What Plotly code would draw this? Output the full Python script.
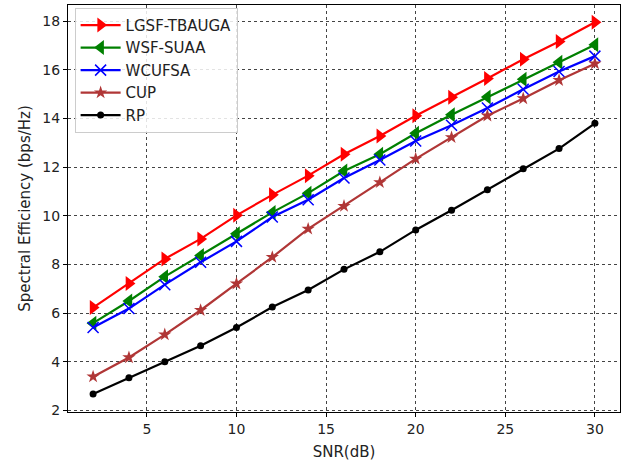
import plotly.graph_objects as go

snr = [2, 4, 6, 8, 10, 12, 14, 16, 18, 20, 22, 24, 26, 28, 30]
lgsf_tbauga = [6.23, 7.22, 8.23, 9.05, 10.02, 10.86, 11.65, 12.53, 13.28, 14.11, 14.87, 15.64, 16.43, 17.16, 17.95]
wsf_suaa = [5.59, 6.50, 7.50, 8.37, 9.26, 10.14, 10.93, 11.84, 12.53, 13.39, 14.15, 14.88, 15.61, 16.31, 17.03]
wcufsa = [5.41, 6.19, 7.17, 8.09, 8.95, 9.95, 10.66, 11.55, 12.29, 13.07, 13.72, 14.43, 15.20, 15.93, 16.56]
cup = [3.39, 4.18, 5.12, 6.12, 7.21, 8.30, 9.46, 10.40, 11.37, 12.34, 13.22, 14.11, 14.82, 15.57, 16.25]
rp = [2.68, 3.35, 4.00, 4.66, 5.41, 6.25, 6.95, 7.80, 8.52, 9.42, 10.23, 11.07, 11.93, 12.76, 13.80]

series = [
    ("LGSF-TBAUGA", lgsf_tbauga, "#ff0000", "triangle-right", 13),
    ("WSF-SUAA", wsf_suaa, "#008000", "triangle-left", 13),
    ("WCUFSA", wcufsa, "#0000ff", "x-thin", 11),
    ("CUP", cup, "#b03636", "star", 10),
    ("RP", rp, "#000000", "circle", 7),
]

fig = go.Figure()
for name, vals, color, sym, size in series:
    marker = dict(symbol=sym, size=size, color=color)
    if sym == "x-thin":
        marker["line"] = dict(color=color, width=1.5)
    fig.add_trace(go.Scatter(
        x=snr, y=vals, name=name, mode="lines+markers",
        line=dict(color=color, width=2.2),
        marker=marker,
    ))

axis_common = dict(
    showline=True, linecolor="black", linewidth=1, mirror=True,
    ticks="outside", ticklen=4, tickcolor="black",
    showgrid=True, gridcolor="#444444", gridwidth=1, griddash="dot",
    zeroline=False,
    tickfont=dict(family="DejaVu Sans", size=14, color="#222222"),
)

fig.update_layout(
    width=625, height=463,
    margin=dict(l=68, r=5, t=5, b=51),
    paper_bgcolor="white", plot_bgcolor="white",
    font=dict(family="DejaVu Sans", size=14, color="#222222"),
    xaxis=dict(range=[0.6, 31.4], tickvals=[5, 10, 15, 20, 25, 30],
               title=dict(text="SNR(dB)", font=dict(size=15), standoff=10), **axis_common),
    yaxis=dict(range=[1.94, 18.66], tickvals=[2, 4, 6, 8, 10, 12, 14, 16, 18],
               title=dict(text="Spectral Efficiency (bps/Hz)", font=dict(size=15), standoff=8), **axis_common),
    legend=dict(x=0.012, y=0.993, xanchor="left", yanchor="top",
                bgcolor="rgba(255,255,255,0.85)", bordercolor="#cccccc", borderwidth=1,
                font=dict(family="DejaVu Sans", size=15, color="#222222"),
                tracegroupgap=0, itemwidth=40),
)

fig.write_html("out.html")
